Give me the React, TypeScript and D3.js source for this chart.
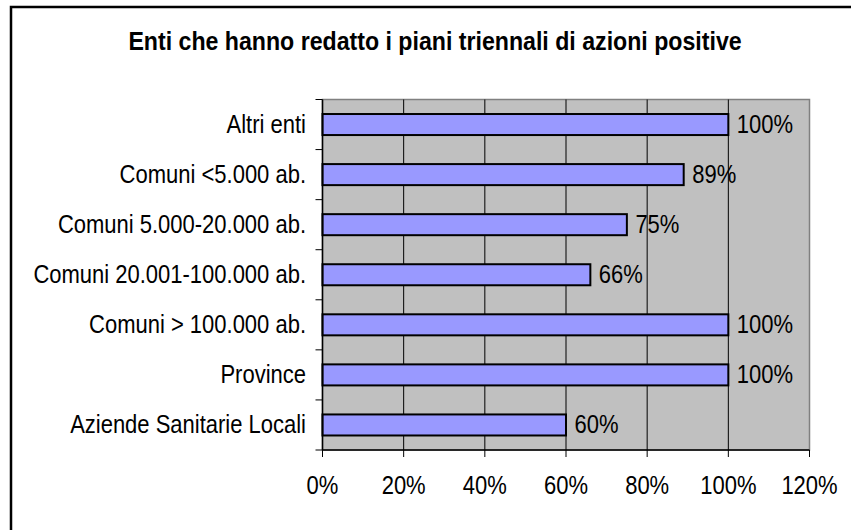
import React from "react";
import * as d3 from "d3";

const categories = [
  "Altri enti",
  "Comuni <5.000 ab.",
  "Comuni 5.000-20.000 ab.",
  "Comuni 20.001-100.000 ab.",
  "Comuni > 100.000 ab.",
  "Province",
  "Aziende Sanitarie Locali",
];
const values = [1.0, 0.89, 0.75, 0.66, 1.0, 1.0, 0.6];
const xTicks = [0, 0.2, 0.4, 0.6, 0.8, 1.0, 1.2];
const title = "Enti che hanno redatto i piani triennali di azioni positive";

const W = 851;
const H = 530;
const plot = { left: 322.5, right: 809.5, top: 99.5, bottom: 450 };
const FONT = "'Liberation Sans', Arial, sans-serif";

function SText(props: {
  x: number;
  y: number;
  anchor?: string;
  size: number;
  sx: number;
  bold?: boolean;
  children: React.ReactNode;
}) {
  return (
    <g transform={`translate(${props.x},${props.y}) scale(${props.sx},1)`}>
      <text
        textAnchor={props.anchor || "start"}
        fontFamily={FONT}
        fontSize={props.size}
        fontWeight={props.bold ? "bold" : "normal"}
        fill="#000"
      >
        {props.children}
      </text>
    </g>
  );
}

export default function App() {
  const x = d3.scaleLinear().domain([0, 1.2]).range([plot.left, plot.right]);
  const y = d3
    .scaleBand<string>()
    .domain(categories)
    .range([plot.top, plot.bottom])
    .paddingInner(0.58)
    .paddingOuter(0.29);
  const step = y.step();
  const pct = d3.format(".0%");
  const boundaries = d3.range(categories.length + 1).map((i) => plot.top + i * step);

  return (
    <svg
      width={W}
      height={H}
      style={{ position: "absolute", left: 0, top: 0, background: "#fff" }}
    >
      <rect x={0} y={0} width={W} height={H} fill="#fff" />
      {/* outer frame (cut off at right and bottom) */}
      <rect x={11} y={7} width={W + 20} height={H + 20} fill="none" stroke="#000" strokeWidth={2.5} />

      <SText x={435} y={50} anchor="middle" size={26} sx={0.89} bold>
        {title}
      </SText>

      {/* plot area */}
      <rect
        x={plot.left}
        y={plot.top}
        width={plot.right - plot.left}
        height={plot.bottom - plot.top}
        fill="#C0C0C0"
        stroke="#808080"
        strokeWidth={1.5}
      />
      {xTicks
        .filter((t) => t > 0 && t < 1.2)
        .map((t) => (
          <line
            key={"g" + t}
            x1={x(t)}
            x2={x(t)}
            y1={plot.top}
            y2={plot.bottom}
            stroke="#000"
            strokeWidth={1}
          />
        ))}

      {/* bars */}
      {categories.map((c, i) => (
        <rect
          key={c}
          x={x(0)}
          y={y(c)!}
          width={x(values[i]) - x(0)}
          height={y.bandwidth()}
          fill="#9999FF"
          stroke="#000"
          strokeWidth={2}
        />
      ))}

      {/* axes */}
      <line x1={plot.left} x2={plot.left} y1={plot.top} y2={plot.bottom} stroke="#000" strokeWidth={1.5} />
      <line x1={plot.left} x2={plot.right} y1={plot.bottom} y2={plot.bottom} stroke="#000" strokeWidth={1.5} />
      {boundaries.map((b, i) => (
        <line key={"yt" + i} x1={plot.left - 7} x2={plot.left} y1={b} y2={b} stroke="#000" strokeWidth={1} />
      ))}
      {xTicks.map((t) => (
        <line key={"xt" + t} x1={x(t)} x2={x(t)} y1={plot.bottom} y2={plot.bottom + 7} stroke="#000" strokeWidth={1} />
      ))}

      {/* tick labels */}
      {xTicks.map((t) => (
        <SText key={"xl" + t} x={x(t)} y={494} anchor="middle" size={25} sx={0.88}>
          {pct(t)}
        </SText>
      ))}
      {categories.map((c) => (
        <SText key={"yl" + c} x={306} y={y(c)! + y.bandwidth() / 2 + 8} anchor="end" size={25} sx={0.88}>
          {c}
        </SText>
      ))}

      {/* value labels */}
      {categories.map((c, i) => (
        <SText key={"vl" + c} x={x(values[i]) + 8.5} y={y(c)! + y.bandwidth() / 2 + 8} size={25} sx={0.88}>
          {pct(values[i])}
        </SText>
      ))}
    </svg>
  );
}
